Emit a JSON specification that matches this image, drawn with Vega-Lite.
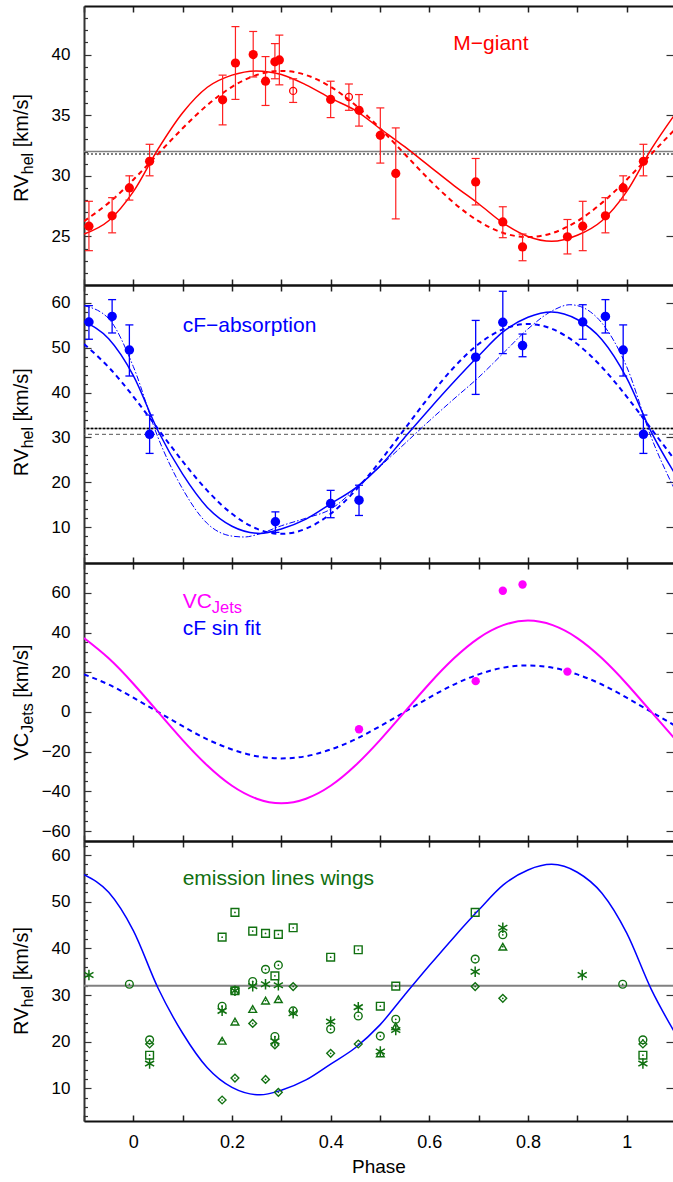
{
"$schema": "https://vega.github.io/schema/vega-lite/v6.json",
"autosize": {"type": "pad"},
"padding": {"left": 12, "top": 5, "right": 0, "bottom": 0},
"background": "white",
"bounds": "flush",
"spacing": 0,
"config": {"view": {"stroke": null}, "axis": {"grid": false, "labelFont": "Liberation Sans", "titleFont": "Liberation Sans", "labelColor": "#000000", "titleColor": "#000000"}, "text": {"font": "Liberation Sans"}},
"datasets": {
"mg": [
{"p":-0.09,"v":25.85,"lo":23.83,"hi":27.9,"open":0},
{"p":-0.043,"v":26.7,"lo":25.3,"hi":28.2,"open":0},
{"p":-0.008,"v":29.0,"lo":28.0,"hi":30.0,"open":0},
{"p":0.033,"v":31.2,"lo":30.0,"hi":32.6,"open":0},
{"p":0.181,"v":36.27,"lo":34.2,"hi":38.3,"open":0},
{"p":0.207,"v":39.3,"lo":36.3,"hi":42.3,"open":0},
{"p":0.243,"v":40.0,"lo":38.15,"hi":41.9,"open":0},
{"p":0.268,"v":37.8,"lo":35.8,"hi":39.83,"open":0},
{"p":0.287,"v":39.4,"lo":38.0,"hi":40.9,"open":0},
{"p":0.296,"v":39.55,"lo":37.5,"hi":41.6,"open":0},
{"p":0.324,"v":37.0,"lo":36.05,"hi":38.0,"open":1},
{"p":0.4,"v":36.3,"lo":34.8,"hi":37.8,"open":0},
{"p":0.437,"v":36.5,"lo":35.4,"hi":37.57,"open":1},
{"p":0.4575,"v":35.4,"lo":34.1,"hi":36.7,"open":0},
{"p":0.5007,"v":33.34,"lo":31.05,"hi":35.6,"open":0},
{"p":0.532,"v":30.2,"lo":26.45,"hi":33.95,"open":0},
{"p":0.694,"v":29.5,"lo":27.6,"hi":31.43,"open":0},
{"p":0.749,"v":26.2,"lo":24.9,"hi":27.45,"open":0},
{"p":0.789,"v":24.14,"lo":23.0,"hi":25.2,"open":0},
{"p":0.88,"v":24.97,"lo":23.56,"hi":26.4,"open":0},
{"p":0.911,"v":25.85,"lo":23.83,"hi":27.9,"open":0},
{"p":0.957,"v":26.7,"lo":25.3,"hi":28.2,"open":0},
{"p":0.993,"v":29.0,"lo":28.0,"hi":30.0,"open":0},
{"p":1.034,"v":31.2,"lo":30.0,"hi":32.6,"open":0}
],
"cf": [
{"p":-0.09,"v":55.75,"lo":51.9,"hi":59.4},
{"p":-0.043,"v":57.0,"lo":53.3,"hi":60.74},
{"p":-0.008,"v":49.5,"lo":43.7,"hi":55.1},
{"p":0.033,"v":30.7,"lo":26.44,"hi":35.0},
{"p":0.288,"v":11.2,"lo":8.83,"hi":13.4},
{"p":0.4,"v":15.26,"lo":12.1,"hi":18.2},
{"p":0.4575,"v":16.0,"lo":12.6,"hi":19.35},
{"p":0.694,"v":47.9,"lo":39.6,"hi":56.1},
{"p":0.749,"v":55.67,"lo":48.7,"hi":62.6},
{"p":0.789,"v":50.5,"lo":48.0,"hi":53.06},
{"p":0.911,"v":55.75,"lo":51.9,"hi":59.6},
{"p":0.957,"v":57.0,"lo":53.3,"hi":60.74},
{"p":0.993,"v":49.5,"lo":43.7,"hi":55.1},
{"p":1.034,"v":30.7,"lo":26.44,"hi":35.0}
],
"vc": [
{"p":0.4575,"v":-8.7},
{"p":0.694,"v":15.5},
{"p":0.749,"v":61.0},
{"p":0.789,"v":64.2},
{"p":0.88,"v":20.3}
],
"em": [
{"p":0.033,"v":17.1,"t":"sq"},{"p":1.033,"v":17.1,"t":"sq"},{"p":0.18,"v":42.4,"t":"sq"},{"p":0.206,"v":47.7,"t":"sq"},{"p":0.206,"v":30.9,"t":"sq"},{"p":0.242,"v":43.7,"t":"sq"},{"p":0.268,"v":43.2,"t":"sq"},{"p":0.287,"v":34.1,"t":"sq"},{"p":0.294,"v":43.0,"t":"sq"},{"p":0.324,"v":44.4,"t":"sq"},{"p":0.4,"v":38.1,"t":"sq"},{"p":0.456,"v":39.7,"t":"sq"},{"p":0.5007,"v":27.6,"t":"sq"},{"p":0.532,"v":31.9,"t":"sq"},{"p":0.693,"v":47.7,"t":"sq"},
{"p":-0.008,"v":32.3,"t":"ci"},{"p":0.992,"v":32.3,"t":"ci"},{"p":0.033,"v":20.4,"t":"ci"},{"p":1.033,"v":20.4,"t":"ci"},{"p":0.18,"v":27.6,"t":"ci"},{"p":0.206,"v":30.9,"t":"ci"},{"p":0.242,"v":32.9,"t":"ci"},{"p":0.268,"v":35.5,"t":"ci"},{"p":0.294,"v":36.4,"t":"ci"},{"p":0.287,"v":21.1,"t":"ci"},{"p":0.324,"v":26.6,"t":"ci"},{"p":0.4,"v":22.7,"t":"ci"},{"p":0.456,"v":25.5,"t":"ci"},{"p":0.5007,"v":21.2,"t":"ci"},{"p":0.532,"v":24.8,"t":"ci"},{"p":0.693,"v":37.7,"t":"ci"},{"p":0.749,"v":42.9,"t":"ci"},
{"p":-0.09,"v":34.3,"t":"as"},{"p":0.91,"v":34.3,"t":"as"},{"p":0.033,"v":15.3,"t":"as"},{"p":1.033,"v":15.3,"t":"as"},{"p":0.18,"v":26.6,"t":"as"},{"p":0.206,"v":30.9,"t":"as"},{"p":0.242,"v":31.9,"t":"as"},{"p":0.268,"v":32.3,"t":"as"},{"p":0.294,"v":32.1,"t":"as"},{"p":0.287,"v":20.1,"t":"as"},{"p":0.324,"v":26.1,"t":"as"},{"p":0.4,"v":24.3,"t":"as"},{"p":0.456,"v":27.4,"t":"as"},{"p":0.5007,"v":17.9,"t":"as"},{"p":0.532,"v":22.5,"t":"as"},{"p":0.693,"v":35.0,"t":"as"},{"p":0.749,"v":44.4,"t":"as"},
{"p":0.18,"v":20.2,"t":"tr"},{"p":0.206,"v":24.3,"t":"tr"},{"p":0.242,"v":27.0,"t":"tr"},{"p":0.268,"v":28.8,"t":"tr"},{"p":0.294,"v":29.1,"t":"tr"},{"p":0.5007,"v":17.5,"t":"tr"},{"p":0.532,"v":23.3,"t":"tr"},{"p":0.749,"v":40.35,"t":"tr"},
{"p":0.033,"v":19.5,"t":"di"},{"p":1.033,"v":19.5,"t":"di"},{"p":0.18,"v":7.5,"t":"di"},{"p":0.206,"v":12.2,"t":"di"},{"p":0.242,"v":23.9,"t":"di"},{"p":0.268,"v":11.9,"t":"di"},{"p":0.294,"v":9.15,"t":"di"},{"p":0.287,"v":19.3,"t":"di"},{"p":0.324,"v":31.8,"t":"di"},{"p":0.4,"v":17.5,"t":"di"},{"p":0.456,"v":19.5,"t":"di"},{"p":0.693,"v":31.8,"t":"di"},{"p":0.749,"v":29.3,"t":"di"}
],
"curves": [
{"c":"mg_fit","p":-0.1,"v":25.2},{"c":"mg_fit","p":-0.05,"v":26.3},{"c":"mg_fit","p":0.0,"v":28.7},{"c":"mg_fit","p":0.05,"v":32.2},{"c":"mg_fit","p":0.1,"v":35.2},{"c":"mg_fit","p":0.15,"v":37.3},{"c":"mg_fit","p":0.2,"v":38.3},{"c":"mg_fit","p":0.25,"v":38.65},{"c":"mg_fit","p":0.3,"v":38.35},{"c":"mg_fit","p":0.35,"v":37.5},{"c":"mg_fit","p":0.4,"v":36.4},{"c":"mg_fit","p":0.45,"v":35.4},{"c":"mg_fit","p":0.5,"v":33.9},{"c":"mg_fit","p":0.55,"v":32.4},{"c":"mg_fit","p":0.6,"v":30.8},{"c":"mg_fit","p":0.65,"v":29.2},{"c":"mg_fit","p":0.7,"v":27.7},{"c":"mg_fit","p":0.75,"v":26.1},{"c":"mg_fit","p":0.8,"v":25.0},{"c":"mg_fit","p":0.848,"v":24.6},{"c":"mg_fit","p":0.9,"v":25.1},{"c":"mg_fit","p":0.95,"v":26.3},{"c":"mg_fit","p":1.0,"v":28.7},{"c":"mg_fit","p":1.05,"v":32.2},{"c":"mg_fit","p":1.1,"v":35.2},
{"c":"mg_sin","p":-0.1,"v":26.26},{"c":"mg_sin","p":-0.05,"v":27.77},{"c":"mg_sin","p":0.0,"v":29.68},{"c":"mg_sin","p":0.05,"v":31.8},{"c":"mg_sin","p":0.1,"v":33.92},{"c":"mg_sin","p":0.15,"v":35.83},{"c":"mg_sin","p":0.2,"v":37.34},{"c":"mg_sin","p":0.25,"v":38.31},{"c":"mg_sin","p":0.3,"v":38.65},{"c":"mg_sin","p":0.35,"v":38.31},{"c":"mg_sin","p":0.4,"v":37.34},{"c":"mg_sin","p":0.45,"v":35.83},{"c":"mg_sin","p":0.5,"v":33.92},{"c":"mg_sin","p":0.55,"v":31.8},{"c":"mg_sin","p":0.6,"v":29.68},{"c":"mg_sin","p":0.65,"v":27.77},{"c":"mg_sin","p":0.7,"v":26.26},{"c":"mg_sin","p":0.75,"v":25.29},{"c":"mg_sin","p":0.8,"v":24.95},{"c":"mg_sin","p":0.85,"v":25.29},{"c":"mg_sin","p":0.9,"v":26.26},{"c":"mg_sin","p":0.95,"v":27.77},{"c":"mg_sin","p":1.0,"v":29.68},{"c":"mg_sin","p":1.05,"v":31.8},{"c":"mg_sin","p":1.1,"v":33.92},
{"c":"cf_fit","p":-0.1,"v":55.8},{"c":"cf_fit","p":-0.05,"v":52.0},{"c":"cf_fit","p":0.0,"v":43.8},{"c":"cf_fit","p":0.05,"v":31.5},{"c":"cf_fit","p":0.1,"v":21.8},{"c":"cf_fit","p":0.15,"v":14.4},{"c":"cf_fit","p":0.2,"v":10.2},{"c":"cf_fit","p":0.257,"v":8.6},{"c":"cf_fit","p":0.3,"v":9.6},{"c":"cf_fit","p":0.35,"v":11.8},{"c":"cf_fit","p":0.4,"v":15.2},{"c":"cf_fit","p":0.45,"v":18.7},{"c":"cf_fit","p":0.5,"v":23.6},{"c":"cf_fit","p":0.55,"v":30.0},{"c":"cf_fit","p":0.6,"v":36.3},{"c":"cf_fit","p":0.65,"v":42.4},{"c":"cf_fit","p":0.7,"v":48.2},{"c":"cf_fit","p":0.75,"v":53.6},{"c":"cf_fit","p":0.8,"v":56.8},{"c":"cf_fit","p":0.848,"v":58.0},{"c":"cf_fit","p":0.9,"v":56.3},{"c":"cf_fit","p":0.95,"v":51.8},{"c":"cf_fit","p":1.0,"v":43.3},{"c":"cf_fit","p":1.05,"v":31.2},{"c":"cf_fit","p":1.1,"v":21.5},
{"c":"cf_sin","p":-0.1,"v":50.83},{"c":"cf_sin","p":-0.05,"v":45.66},{"c":"cf_sin","p":0.0,"v":39.13},{"c":"cf_sin","p":0.05,"v":31.9},{"c":"cf_sin","p":0.1,"v":24.67},{"c":"cf_sin","p":0.15,"v":18.14},{"c":"cf_sin","p":0.2,"v":12.97},{"c":"cf_sin","p":0.25,"v":9.65},{"c":"cf_sin","p":0.3,"v":8.5},{"c":"cf_sin","p":0.35,"v":9.65},{"c":"cf_sin","p":0.4,"v":12.97},{"c":"cf_sin","p":0.45,"v":18.14},{"c":"cf_sin","p":0.5,"v":24.67},{"c":"cf_sin","p":0.55,"v":31.9},{"c":"cf_sin","p":0.6,"v":39.13},{"c":"cf_sin","p":0.65,"v":45.66},{"c":"cf_sin","p":0.7,"v":50.83},{"c":"cf_sin","p":0.75,"v":54.15},{"c":"cf_sin","p":0.8,"v":55.3},{"c":"cf_sin","p":0.85,"v":54.15},{"c":"cf_sin","p":0.9,"v":50.83},{"c":"cf_sin","p":0.95,"v":45.66},{"c":"cf_sin","p":1.0,"v":39.13},{"c":"cf_sin","p":1.05,"v":31.9},{"c":"cf_sin","p":1.1,"v":24.67},
{"c":"cf_ecc","p":-0.1,"v":59.4},{"c":"cf_ecc","p":-0.05,"v":56.5},{"c":"cf_ecc","p":0.0,"v":45.8},{"c":"cf_ecc","p":0.05,"v":30.0},{"c":"cf_ecc","p":0.1,"v":18.5},{"c":"cf_ecc","p":0.15,"v":10.8},{"c":"cf_ecc","p":0.2,"v":8.0},{"c":"cf_ecc","p":0.225,"v":7.8},{"c":"cf_ecc","p":0.25,"v":8.3},{"c":"cf_ecc","p":0.3,"v":10.3},{"c":"cf_ecc","p":0.35,"v":12.0},{"c":"cf_ecc","p":0.4,"v":14.0},{"c":"cf_ecc","p":0.45,"v":18.5},{"c":"cf_ecc","p":0.5,"v":23.5},{"c":"cf_ecc","p":0.55,"v":28.6},{"c":"cf_ecc","p":0.6,"v":33.7},{"c":"cf_ecc","p":0.65,"v":38.6},{"c":"cf_ecc","p":0.7,"v":43.4},{"c":"cf_ecc","p":0.75,"v":48.8},{"c":"cf_ecc","p":0.8,"v":54.2},{"c":"cf_ecc","p":0.85,"v":58.3},{"c":"cf_ecc","p":0.885,"v":59.6},{"c":"cf_ecc","p":0.9,"v":59.4},{"c":"cf_ecc","p":0.95,"v":55.5},{"c":"cf_ecc","p":1.0,"v":45.8},{"c":"cf_ecc","p":1.05,"v":30.0},{"c":"cf_ecc","p":1.1,"v":17.8},
{"c":"vc_fit","p":-0.1,"v":37.2},{"c":"vc_fit","p":-0.05,"v":27.0},{"c":"vc_fit","p":0.0,"v":14.2},{"c":"vc_fit","p":0.05,"v":0.0},{"c":"vc_fit","p":0.1,"v":-14.2},{"c":"vc_fit","p":0.15,"v":-27.0},{"c":"vc_fit","p":0.2,"v":-37.2},{"c":"vc_fit","p":0.25,"v":-43.7},{"c":"vc_fit","p":0.3,"v":-46.0},{"c":"vc_fit","p":0.35,"v":-43.7},{"c":"vc_fit","p":0.4,"v":-37.2},{"c":"vc_fit","p":0.45,"v":-27.0},{"c":"vc_fit","p":0.5,"v":-14.2},{"c":"vc_fit","p":0.55,"v":0.0},{"c":"vc_fit","p":0.6,"v":14.2},{"c":"vc_fit","p":0.65,"v":27.0},{"c":"vc_fit","p":0.7,"v":37.2},{"c":"vc_fit","p":0.75,"v":43.7},{"c":"vc_fit","p":0.8,"v":46.0},{"c":"vc_fit","p":0.85,"v":43.7},{"c":"vc_fit","p":0.9,"v":37.2},{"c":"vc_fit","p":0.95,"v":27.0},{"c":"vc_fit","p":1.0,"v":14.2},{"c":"vc_fit","p":1.05,"v":0.0},{"c":"vc_fit","p":1.1,"v":-14.2},
{"c":"vc_sin","p":-0.1,"v":18.9},{"c":"vc_sin","p":-0.05,"v":13.8},{"c":"vc_sin","p":0.0,"v":7.2},{"c":"vc_sin","p":0.05,"v":0.0},{"c":"vc_sin","p":0.1,"v":-7.2},{"c":"vc_sin","p":0.15,"v":-13.8},{"c":"vc_sin","p":0.2,"v":-18.9},{"c":"vc_sin","p":0.25,"v":-22.3},{"c":"vc_sin","p":0.3,"v":-23.4},{"c":"vc_sin","p":0.35,"v":-22.3},{"c":"vc_sin","p":0.4,"v":-18.9},{"c":"vc_sin","p":0.45,"v":-13.8},{"c":"vc_sin","p":0.5,"v":-7.2},{"c":"vc_sin","p":0.55,"v":0.0},{"c":"vc_sin","p":0.6,"v":7.2},{"c":"vc_sin","p":0.65,"v":13.8},{"c":"vc_sin","p":0.7,"v":18.9},{"c":"vc_sin","p":0.75,"v":22.3},{"c":"vc_sin","p":0.8,"v":23.4},{"c":"vc_sin","p":0.85,"v":22.3},{"c":"vc_sin","p":0.9,"v":18.9},{"c":"vc_sin","p":0.95,"v":13.8},{"c":"vc_sin","p":1.0,"v":7.2},{"c":"vc_sin","p":1.05,"v":0.0},{"c":"vc_sin","p":1.1,"v":-7.2}
]
},
"vconcat": [
{
"width": 589, "height": 279,
"resolve": {"axis": {"x": "independent", "y": "independent"}},
"layer": [
{"data": {"values": [{}]}, "mark": {"type": "rule", "color": "#808080", "strokeWidth": 1.5}, "encoding": {"y": {"datum": 32, "type": "quantitative", "scale": {"domain": [21, 44], "nice": false, "zero": false}, "axis": null}}},
{"data": {"values": [{}]}, "mark": {"type": "rule", "color": "#000000", "strokeWidth": 1.2, "strokeDash": [2, 2]}, "encoding": {"y": {"datum": 31.8, "type": "quantitative", "scale": {"domain": [21, 44], "nice": false, "zero": false}, "axis": null}}},
{"data": {"name": "curves"}, "transform": [{"filter": "datum.c === 'mg_sin'"}], "mark": {"type": "line", "color": "#ff0000", "strokeWidth": 2, "strokeDash": [5, 4], "interpolate": "natural", "clip": true},
 "encoding": {"x": {"field": "p", "type": "quantitative", "scale": {"domain": [-0.1, 1.094], "nice": false, "zero": false}, "axis": {"orient": "top", "values": [-0.1,0,0.1,0.2,0.3,0.4,0.5,0.6,0.7,0.8,0.9,1], "tickSize": -6, "tickWidth": 1.5, "tickColor": "#222222", "labels": false, "domain": true, "domainColor": "#111111", "domainWidth": 2, "title": null}},
 "y": {"field": "v", "type": "quantitative", "scale": {"domain": [21, 44], "nice": false, "zero": false}, "axis": {"orient": "right", "values": [25, 30, 35, 40], "tickSize": -7, "tickWidth": 1.2, "tickColor": "#333333", "labels": false, "domain": false, "title": null}}}},
{"data": {"name": "curves"}, "transform": [{"filter": "datum.c === 'mg_fit'"}], "mark": {"type": "line", "color": "#ff0000", "strokeWidth": 1.5, "interpolate": "monotone", "clip": true},
 "encoding": {"x": {"field": "p", "type": "quantitative", "scale": {"domain": [-0.1, 1.094], "nice": false, "zero": false}, "axis": {"orient": "bottom", "values": [-0.1,0,0.1,0.2,0.3,0.4,0.5,0.6,0.7,0.8,0.9,1], "tickSize": -6, "tickWidth": 1.5, "tickColor": "#222222", "labels": false, "domain": true, "domainColor": "#111111", "domainWidth": 2, "title": null}},
 "y": {"field": "v", "type": "quantitative", "scale": {"domain": [21, 44], "nice": false, "zero": false}, "axis": {"orient": "left", "values": [22,23,24,25,26,27,28,29,30,31,32,33,34,35,36,37,38,39,40,41,42,43], "tickSize": {"condition": {"test": "datum.value % 5 !== 0", "value": -3.5}, "value": -7}, "tickWidth": 1.2, "tickColor": "#333333", "labelExpr": "datum.value % 5 === 0 ? datum.label : ''", "labelFontSize": 17, "labelPadding": 21, "labelOverlap": false, "labelFlush": false, "domain": true, "domainColor": "#333333", "domainWidth": 2, "title": null}}}},
{"data": {"name": "mg"}, "mark": {"type": "rule", "color": "#ff2020", "strokeWidth": 1.2}, "encoding": {"x": {"field": "p", "type": "quantitative", "scale": {"domain": [-0.1, 1.094], "nice": false, "zero": false}, "axis": null}, "y": {"field": "lo", "type": "quantitative", "scale": {"domain": [21, 44], "nice": false, "zero": false}, "axis": null}, "y2": {"field": "hi"}}},
{"data": {"name": "mg"}, "mark": {"type": "tick", "orient": "horizontal", "color": "#ff2020", "size": 8, "thickness": 1.2, "opacity": 1}, "encoding": {"x": {"field": "p", "type": "quantitative", "scale": {"domain": [-0.1, 1.094], "nice": false, "zero": false}, "axis": null}, "y": {"field": "lo", "type": "quantitative", "scale": {"domain": [21, 44], "nice": false, "zero": false}, "axis": null}}},
{"data": {"name": "mg"}, "mark": {"type": "tick", "orient": "horizontal", "color": "#ff2020", "size": 8, "thickness": 1.2, "opacity": 1}, "encoding": {"x": {"field": "p", "type": "quantitative", "scale": {"domain": [-0.1, 1.094], "nice": false, "zero": false}, "axis": null}, "y": {"field": "hi", "type": "quantitative", "scale": {"domain": [21, 44], "nice": false, "zero": false}, "axis": null}}},
{"data": {"name": "mg"}, "transform": [{"filter": "datum.open === 0"}], "mark": {"type": "point", "shape": "circle", "filled": true, "color": "#ff0000", "size": 85, "opacity": 1}, "encoding": {"x": {"field": "p", "type": "quantitative", "scale": {"domain": [-0.1, 1.094], "nice": false, "zero": false}, "axis": null}, "y": {"field": "v", "type": "quantitative", "scale": {"domain": [21, 44], "nice": false, "zero": false}, "axis": null}}},
{"data": {"name": "mg"}, "transform": [{"filter": "datum.open === 1"}], "mark": {"type": "point", "shape": "circle", "filled": false, "color": "#ff0000", "size": 50, "strokeWidth": 1.3, "opacity": 1}, "encoding": {"x": {"field": "p", "type": "quantitative", "scale": {"domain": [-0.1, 1.094], "nice": false, "zero": false}, "axis": null}, "y": {"field": "v", "type": "quantitative", "scale": {"domain": [21, 44], "nice": false, "zero": false}, "axis": null}}},
{"data": {"values": [{}]}, "mark": {"type": "text", "text": "M\u2212giant", "align": "center", "baseline": "alphabetic", "fontSize": 21, "font": "Liberation Sans", "color": "#ff0000"}, "encoding": {"x": {"datum": 0.725, "type": "quantitative", "scale": {"domain": [-0.1, 1.094], "nice": false, "zero": false}, "axis": null}, "y": {"datum": 40.37, "type": "quantitative", "scale": {"domain": [21, 44], "nice": false, "zero": false}, "axis": null}}},
{"data": {"values": [{}]}, "mark": {"type": "text", "text": "RV", "angle": 270, "align": "left", "baseline": "alphabetic", "fontSize": 20, "font": "Liberation Sans", "color": "#000000"}, "encoding": {"x": {"datum": -0.2135, "type": "quantitative", "scale": {"domain": [-0.1, 1.094], "nice": false, "zero": false}, "axis": null}, "y": {"datum": 27.84, "type": "quantitative", "scale": {"domain": [21, 44], "nice": false, "zero": false}, "axis": null}}},
{"data": {"values": [{}]}, "mark": {"type": "text", "text": "hel", "angle": 270, "align": "left", "baseline": "alphabetic", "fontSize": 16, "dx": 27.8, "dy": 5, "font": "Liberation Sans", "color": "#000000"}, "encoding": {"x": {"datum": -0.2135, "type": "quantitative", "scale": {"domain": [-0.1, 1.094], "nice": false, "zero": false}, "axis": null}, "y": {"datum": 27.84, "type": "quantitative", "scale": {"domain": [21, 44], "nice": false, "zero": false}, "axis": null}}},
{"data": {"values": [{}]}, "mark": {"type": "text", "text": "[km/s]", "angle": 270, "align": "left", "baseline": "alphabetic", "fontSize": 20, "dx": 54.7, "font": "Liberation Sans", "color": "#000000"}, "encoding": {"x": {"datum": -0.2135, "type": "quantitative", "scale": {"domain": [-0.1, 1.094], "nice": false, "zero": false}, "axis": null}, "y": {"datum": 27.84, "type": "quantitative", "scale": {"domain": [21, 44], "nice": false, "zero": false}, "axis": null}}}
]
},
{
"width": 589, "height": 278,
"resolve": {"axis": {"x": "independent", "y": "independent"}},
"layer": [
{"data": {"values": [{}]}, "mark": {"type": "rule", "color": "#808080", "strokeWidth": 1.5}, "encoding": {"y": {"datum": 32, "type": "quantitative", "scale": {"domain": [2, 64], "nice": false, "zero": false}, "axis": null}}},
{"data": {"values": [{}]}, "mark": {"type": "rule", "color": "#000000", "strokeWidth": 1.5, "strokeDash": [2, 2]}, "encoding": {"y": {"datum": 32, "type": "quantitative", "scale": {"domain": [2, 64], "nice": false, "zero": false}, "axis": null}}},
{"data": {"values": [{}]}, "mark": {"type": "rule", "color": "#555555", "strokeWidth": 1, "strokeDash": [4, 3]}, "encoding": {"y": {"datum": 30.7, "type": "quantitative", "scale": {"domain": [2, 64], "nice": false, "zero": false}, "axis": null}}},
{"data": {"name": "curves"}, "transform": [{"filter": "datum.c === 'cf_ecc'"}], "mark": {"type": "line", "color": "#0000ff", "strokeWidth": 1, "strokeDash": [6, 2, 1.5, 2], "interpolate": "monotone", "clip": true}, "encoding": {"x": {"field": "p", "type": "quantitative", "scale": {"domain": [-0.1, 1.094], "nice": false, "zero": false}, "axis": null}, "y": {"field": "v", "type": "quantitative", "scale": {"domain": [2, 64], "nice": false, "zero": false}, "axis": null}}},
{"data": {"name": "curves"}, "transform": [{"filter": "datum.c === 'cf_sin'"}], "mark": {"type": "line", "color": "#0000ff", "strokeWidth": 2, "strokeDash": [5, 4], "interpolate": "natural", "clip": true},
 "encoding": {"x": {"field": "p", "type": "quantitative", "scale": {"domain": [-0.1, 1.094], "nice": false, "zero": false}, "axis": {"orient": "top", "values": [-0.1,0,0.1,0.2,0.3,0.4,0.5,0.6,0.7,0.8,0.9,1], "tickSize": -6, "tickWidth": 1.5, "tickColor": "#222222", "labels": false, "domain": true, "domainColor": "#111111", "domainWidth": 2, "title": null}},
 "y": {"field": "v", "type": "quantitative", "scale": {"domain": [2, 64], "nice": false, "zero": false}, "axis": {"orient": "right", "values": [10, 20, 30, 40, 50, 60], "tickSize": -7, "tickWidth": 1.2, "tickColor": "#333333", "labels": false, "domain": false, "title": null}}}},
{"data": {"name": "curves"}, "transform": [{"filter": "datum.c === 'cf_fit'"}], "mark": {"type": "line", "color": "#0000ff", "strokeWidth": 1.5, "interpolate": "monotone", "clip": true},
 "encoding": {"x": {"field": "p", "type": "quantitative", "scale": {"domain": [-0.1, 1.094], "nice": false, "zero": false}, "axis": {"orient": "bottom", "values": [-0.1,0,0.1,0.2,0.3,0.4,0.5,0.6,0.7,0.8,0.9,1], "tickSize": -6, "tickWidth": 1.5, "tickColor": "#222222", "labels": false, "domain": true, "domainColor": "#111111", "domainWidth": 2, "title": null}},
 "y": {"field": "v", "type": "quantitative", "scale": {"domain": [2, 64], "nice": false, "zero": false}, "axis": {"orient": "left", "values": [4,6,8,10,12,14,16,18,20,22,24,26,28,30,32,34,36,38,40,42,44,46,48,50,52,54,56,58,60,62], "tickSize": {"condition": {"test": "datum.value % 10 !== 0", "value": -3.5}, "value": -7}, "tickWidth": 1.2, "tickColor": "#333333", "labelExpr": "datum.value % 10 === 0 ? datum.label : ''", "labelFontSize": 17, "labelPadding": 21, "labelOverlap": false, "labelFlush": false, "domain": true, "domainColor": "#333333", "domainWidth": 2, "title": null}}}},
{"data": {"name": "cf"}, "mark": {"type": "rule", "color": "#0000ff", "strokeWidth": 1.3}, "encoding": {"x": {"field": "p", "type": "quantitative", "scale": {"domain": [-0.1, 1.094], "nice": false, "zero": false}, "axis": null}, "y": {"field": "lo", "type": "quantitative", "scale": {"domain": [2, 64], "nice": false, "zero": false}, "axis": null}, "y2": {"field": "hi"}}},
{"data": {"name": "cf"}, "mark": {"type": "tick", "orient": "horizontal", "color": "#0000ff", "size": 8, "thickness": 1.3, "opacity": 1}, "encoding": {"x": {"field": "p", "type": "quantitative", "scale": {"domain": [-0.1, 1.094], "nice": false, "zero": false}, "axis": null}, "y": {"field": "lo", "type": "quantitative", "scale": {"domain": [2, 64], "nice": false, "zero": false}, "axis": null}}},
{"data": {"name": "cf"}, "mark": {"type": "tick", "orient": "horizontal", "color": "#0000ff", "size": 8, "thickness": 1.3, "opacity": 1}, "encoding": {"x": {"field": "p", "type": "quantitative", "scale": {"domain": [-0.1, 1.094], "nice": false, "zero": false}, "axis": null}, "y": {"field": "hi", "type": "quantitative", "scale": {"domain": [2, 64], "nice": false, "zero": false}, "axis": null}}},
{"data": {"name": "cf"}, "mark": {"type": "point", "shape": "circle", "filled": true, "color": "#0000ff", "size": 90, "opacity": 1}, "encoding": {"x": {"field": "p", "type": "quantitative", "scale": {"domain": [-0.1, 1.094], "nice": false, "zero": false}, "axis": null}, "y": {"field": "v", "type": "quantitative", "scale": {"domain": [2, 64], "nice": false, "zero": false}, "axis": null}}},
{"data": {"values": [{}]}, "mark": {"type": "text", "text": "cF\u2212absorption", "align": "left", "baseline": "alphabetic", "fontSize": 21, "font": "Liberation Sans", "color": "#0000ff"}, "encoding": {"x": {"datum": 0.1, "type": "quantitative", "scale": {"domain": [-0.1, 1.094], "nice": false, "zero": false}, "axis": null}, "y": {"datum": 53.58, "type": "quantitative", "scale": {"domain": [2, 64], "nice": false, "zero": false}, "axis": null}}},
{"data": {"values": [{}]}, "mark": {"type": "text", "text": "RV", "angle": 270, "align": "left", "baseline": "alphabetic", "fontSize": 20, "font": "Liberation Sans", "color": "#000000"}, "encoding": {"x": {"datum": -0.2135, "type": "quantitative", "scale": {"domain": [-0.1, 1.094], "nice": false, "zero": false}, "axis": null}, "y": {"datum": 21.37, "type": "quantitative", "scale": {"domain": [2, 64], "nice": false, "zero": false}, "axis": null}}},
{"data": {"values": [{}]}, "mark": {"type": "text", "text": "hel", "angle": 270, "align": "left", "baseline": "alphabetic", "fontSize": 16, "dx": 27.8, "dy": 5, "font": "Liberation Sans", "color": "#000000"}, "encoding": {"x": {"datum": -0.2135, "type": "quantitative", "scale": {"domain": [-0.1, 1.094], "nice": false, "zero": false}, "axis": null}, "y": {"datum": 21.37, "type": "quantitative", "scale": {"domain": [2, 64], "nice": false, "zero": false}, "axis": null}}},
{"data": {"values": [{}]}, "mark": {"type": "text", "text": "[km/s]", "angle": 270, "align": "left", "baseline": "alphabetic", "fontSize": 20, "dx": 54.7, "font": "Liberation Sans", "color": "#000000"}, "encoding": {"x": {"datum": -0.2135, "type": "quantitative", "scale": {"domain": [-0.1, 1.094], "nice": false, "zero": false}, "axis": null}, "y": {"datum": 21.37, "type": "quantitative", "scale": {"domain": [2, 64], "nice": false, "zero": false}, "axis": null}}}
]
},
{
"width": 589, "height": 278,
"resolve": {"axis": {"x": "independent", "y": "independent"}},
"layer": [
{"data": {"name": "curves"}, "transform": [{"filter": "datum.c === 'vc_sin'"}], "mark": {"type": "line", "color": "#0000ff", "strokeWidth": 2, "strokeDash": [5, 4], "interpolate": "natural", "clip": true},
 "encoding": {"x": {"field": "p", "type": "quantitative", "scale": {"domain": [-0.1, 1.094], "nice": false, "zero": false}, "axis": {"orient": "top", "values": [-0.1,0,0.1,0.2,0.3,0.4,0.5,0.6,0.7,0.8,0.9,1], "tickSize": -6, "tickWidth": 1.5, "tickColor": "#222222", "labels": false, "domain": true, "domainColor": "#111111", "domainWidth": 2, "title": null}},
 "y": {"field": "v", "type": "quantitative", "scale": {"domain": [-65, 75], "nice": false, "zero": false}, "axis": {"orient": "right", "values": [-60, -40, -20, 0, 20, 40, 60], "tickSize": -7, "tickWidth": 1.2, "tickColor": "#333333", "labels": false, "domain": false, "title": null}}}},
{"data": {"name": "curves"}, "transform": [{"filter": "datum.c === 'vc_fit'"}], "mark": {"type": "line", "color": "#ff00ff", "strokeWidth": 2, "interpolate": "natural", "clip": true},
 "encoding": {"x": {"field": "p", "type": "quantitative", "scale": {"domain": [-0.1, 1.094], "nice": false, "zero": false}, "axis": {"orient": "bottom", "values": [-0.1,0,0.1,0.2,0.3,0.4,0.5,0.6,0.7,0.8,0.9,1], "tickSize": -6, "tickWidth": 1.5, "tickColor": "#222222", "labels": false, "domain": true, "domainColor": "#111111", "domainWidth": 2, "title": null}},
 "y": {"field": "v", "type": "quantitative", "scale": {"domain": [-65, 75], "nice": false, "zero": false}, "axis": {"orient": "left", "values": [-60,-55,-50,-45,-40,-35,-30,-25,-20,-15,-10,-5,0,5,10,15,20,25,30,35,40,45,50,55,60,65,70], "tickSize": {"condition": {"test": "datum.value % 20 !== 0", "value": -3.5}, "value": -7}, "tickWidth": 1.2, "tickColor": "#333333", "labelExpr": "datum.value % 20 === 0 ? datum.label : ''", "labelFontSize": 17, "labelPadding": 21, "labelOverlap": false, "labelFlush": false, "domain": true, "domainColor": "#333333", "domainWidth": 2, "title": null}}}},
{"data": {"name": "vc"}, "mark": {"type": "point", "shape": "circle", "filled": true, "color": "#ff00ff", "size": 70, "opacity": 1}, "encoding": {"x": {"field": "p", "type": "quantitative", "scale": {"domain": [-0.1, 1.094], "nice": false, "zero": false}, "axis": null}, "y": {"field": "v", "type": "quantitative", "scale": {"domain": [-65, 75], "nice": false, "zero": false}, "axis": null}}},
{"data": {"values": [{}]}, "mark": {"type": "text", "text": "VC", "align": "left", "baseline": "alphabetic", "fontSize": 21, "font": "Liberation Sans", "color": "#ff00ff"}, "encoding": {"x": {"datum": 0.1, "type": "quantitative", "scale": {"domain": [-0.1, 1.094], "nice": false, "zero": false}, "axis": null}, "y": {"datum": 52.2, "type": "quantitative", "scale": {"domain": [-65, 75], "nice": false, "zero": false}, "axis": null}}},
{"data": {"values": [{}]}, "mark": {"type": "text", "text": "Jets", "align": "left", "baseline": "alphabetic", "fontSize": 16.5, "dx": 29.2, "dy": 5, "font": "Liberation Sans", "color": "#ff00ff"}, "encoding": {"x": {"datum": 0.1, "type": "quantitative", "scale": {"domain": [-0.1, 1.094], "nice": false, "zero": false}, "axis": null}, "y": {"datum": 52.2, "type": "quantitative", "scale": {"domain": [-65, 75], "nice": false, "zero": false}, "axis": null}}},
{"data": {"values": [{}]}, "mark": {"type": "text", "text": "cF sin fit", "align": "left", "baseline": "alphabetic", "fontSize": 21, "font": "Liberation Sans", "color": "#0000ff"}, "encoding": {"x": {"datum": 0.1, "type": "quantitative", "scale": {"domain": [-0.1, 1.094], "nice": false, "zero": false}, "axis": null}, "y": {"datum": 38.75, "type": "quantitative", "scale": {"domain": [-65, 75], "nice": false, "zero": false}, "axis": null}}},
{"data": {"values": [{}]}, "mark": {"type": "text", "text": "VC", "angle": 270, "align": "left", "baseline": "alphabetic", "fontSize": 20, "font": "Liberation Sans", "color": "#000000"}, "encoding": {"x": {"datum": -0.2135, "type": "quantitative", "scale": {"domain": [-0.1, 1.094], "nice": false, "zero": false}, "axis": null}, "y": {"datum": -24.45, "type": "quantitative", "scale": {"domain": [-65, 75], "nice": false, "zero": false}, "axis": null}}},
{"data": {"values": [{}]}, "mark": {"type": "text", "text": "Jets", "angle": 270, "align": "left", "baseline": "alphabetic", "fontSize": 16, "dx": 27.8, "dy": 5, "font": "Liberation Sans", "color": "#000000"}, "encoding": {"x": {"datum": -0.2135, "type": "quantitative", "scale": {"domain": [-0.1, 1.094], "nice": false, "zero": false}, "axis": null}, "y": {"datum": -24.45, "type": "quantitative", "scale": {"domain": [-65, 75], "nice": false, "zero": false}, "axis": null}}},
{"data": {"values": [{}]}, "mark": {"type": "text", "text": "[km/s]", "angle": 270, "align": "left", "baseline": "alphabetic", "fontSize": 20, "dx": 62.7, "font": "Liberation Sans", "color": "#000000"}, "encoding": {"x": {"datum": -0.2135, "type": "quantitative", "scale": {"domain": [-0.1, 1.094], "nice": false, "zero": false}, "axis": null}, "y": {"datum": -24.45, "type": "quantitative", "scale": {"domain": [-65, 75], "nice": false, "zero": false}, "axis": null}}}
]
},
{
"width": 589, "height": 280,
"resolve": {"axis": {"x": "independent", "y": "independent"}},
"layer": [
{"data": {"values": [{}]}, "mark": {"type": "rule", "color": "#808080", "strokeWidth": 2}, "encoding": {"y": {"datum": 32, "type": "quantitative", "scale": {"domain": [3, 63], "nice": false, "zero": false}, "axis": null}}},
{"data": {"name": "curves"}, "transform": [{"filter": "datum.c === 'cf_fit'"}], "mark": {"type": "line", "color": "#0000ff", "strokeWidth": 1.5, "interpolate": "monotone", "clip": true},
 "encoding": {"x": {"field": "p", "type": "quantitative", "scale": {"domain": [-0.1, 1.094], "nice": false, "zero": false}, "axis": {"orient": "bottom", "values": [-0.1,0,0.1,0.2,0.3,0.4,0.5,0.6,0.7,0.8,0.9,1], "tickSize": -6, "tickWidth": 1.5, "tickColor": "#222222", "labels": true, "format": "~g", "labelExpr": "(datum.value >= 0 && abs(round(datum.value * 10)) % 2 === 0) ? datum.label : ''", "labelFontSize": 18, "labelPadding": 18, "labelOverlap": false, "labelFlush": false, "domain": true, "domainColor": "#111111", "domainWidth": 2, "title": "Phase", "titleFontSize": 19, "titleFontWeight": "normal", "titlePadding": 6}},
 "y": {"field": "v", "type": "quantitative", "scale": {"domain": [3, 63], "nice": false, "zero": false}, "axis": {"orient": "left", "values": [4,6,8,10,12,14,16,18,20,22,24,26,28,30,32,34,36,38,40,42,44,46,48,50,52,54,56,58,60,62], "tickSize": {"condition": {"test": "datum.value % 10 !== 0", "value": -3.5}, "value": -7}, "tickWidth": 1.2, "tickColor": "#333333", "labelExpr": "datum.value % 10 === 0 ? datum.label : ''", "labelFontSize": 17, "labelPadding": 21, "labelOverlap": false, "labelFlush": false, "domain": true, "domainColor": "#333333", "domainWidth": 2, "title": null}}}},
{"data": {"name": "em"}, "transform": [{"filter": "datum.t !== 'as'"}], "mark": {"type": "point", "filled": false, "color": "#107010", "strokeWidth": 1.4, "opacity": 1},
 "encoding": {"x": {"field": "p", "type": "quantitative", "scale": {"domain": [-0.1, 1.094], "nice": false, "zero": false}, "axis": {"orient": "top", "values": [-0.1,0,0.1,0.2,0.3,0.4,0.5,0.6,0.7,0.8,0.9,1], "tickSize": -6, "tickWidth": 1.5, "tickColor": "#222222", "labels": false, "domain": true, "domainColor": "#111111", "domainWidth": 2, "title": null}},
 "y": {"field": "v", "type": "quantitative", "scale": {"domain": [3, 63], "nice": false, "zero": false}, "axis": {"orient": "right", "values": [10, 20, 30, 40, 50, 60], "tickSize": -7, "tickWidth": 1.2, "tickColor": "#333333", "labels": false, "domain": false, "title": null}},
 "shape": {"field": "t", "type": "nominal", "scale": {"domain": ["sq", "ci", "tr", "di"], "range": ["square", "circle", "triangle-up", "diamond"]}, "legend": null},
 "size": {"field": "t", "type": "nominal", "scale": {"domain": ["sq", "ci", "tr", "di"], "range": [60, 60, 45, 70]}, "legend": null}}},
{"data": {"name": "em"}, "transform": [{"filter": "datum.t === 'as'"}], "mark": {"type": "point", "shape": "M0,-1L0,1M-0.866,-0.5L0.866,0.5M-0.866,0.5L0.866,-0.5", "filled": false, "color": "#107010", "strokeWidth": 1.5, "size": 110, "opacity": 1}, "encoding": {"x": {"field": "p", "type": "quantitative", "scale": {"domain": [-0.1, 1.094], "nice": false, "zero": false}, "axis": null}, "y": {"field": "v", "type": "quantitative", "scale": {"domain": [3, 63], "nice": false, "zero": false}, "axis": null}}},
{"data": {"name": "em"}, "transform": [{"filter": "datum.t !== 'as'"}], "mark": {"type": "point", "shape": "circle", "filled": true, "color": "#107010", "size": 3, "opacity": 1}, "encoding": {"x": {"field": "p", "type": "quantitative", "scale": {"domain": [-0.1, 1.094], "nice": false, "zero": false}, "axis": null}, "y": {"field": "v", "type": "quantitative", "scale": {"domain": [3, 63], "nice": false, "zero": false}, "axis": null}}},
{"data": {"values": [{}]}, "mark": {"type": "text", "text": "emission lines wings", "align": "left", "baseline": "alphabetic", "fontSize": 21, "font": "Liberation Sans", "color": "#107010"}, "encoding": {"x": {"datum": 0.1, "type": "quantitative", "scale": {"domain": [-0.1, 1.094], "nice": false, "zero": false}, "axis": null}, "y": {"datum": 53.57, "type": "quantitative", "scale": {"domain": [3, 63], "nice": false, "zero": false}, "axis": null}}},
{"data": {"values": [{}]}, "mark": {"type": "text", "text": "RV", "angle": 270, "align": "left", "baseline": "alphabetic", "fontSize": 20, "font": "Liberation Sans", "color": "#000000"}, "encoding": {"x": {"datum": -0.2135, "type": "quantitative", "scale": {"domain": [-0.1, 1.094], "nice": false, "zero": false}, "axis": null}, "y": {"datum": 21.43, "type": "quantitative", "scale": {"domain": [3, 63], "nice": false, "zero": false}, "axis": null}}},
{"data": {"values": [{}]}, "mark": {"type": "text", "text": "hel", "angle": 270, "align": "left", "baseline": "alphabetic", "fontSize": 16, "dx": 27.8, "dy": 5, "font": "Liberation Sans", "color": "#000000"}, "encoding": {"x": {"datum": -0.2135, "type": "quantitative", "scale": {"domain": [-0.1, 1.094], "nice": false, "zero": false}, "axis": null}, "y": {"datum": 21.43, "type": "quantitative", "scale": {"domain": [3, 63], "nice": false, "zero": false}, "axis": null}}},
{"data": {"values": [{}]}, "mark": {"type": "text", "text": "[km/s]", "angle": 270, "align": "left", "baseline": "alphabetic", "fontSize": 20, "dx": 54.7, "font": "Liberation Sans", "color": "#000000"}, "encoding": {"x": {"datum": -0.2135, "type": "quantitative", "scale": {"domain": [-0.1, 1.094], "nice": false, "zero": false}, "axis": null}, "y": {"datum": 21.43, "type": "quantitative", "scale": {"domain": [3, 63], "nice": false, "zero": false}, "axis": null}}}
]
}
]
}
